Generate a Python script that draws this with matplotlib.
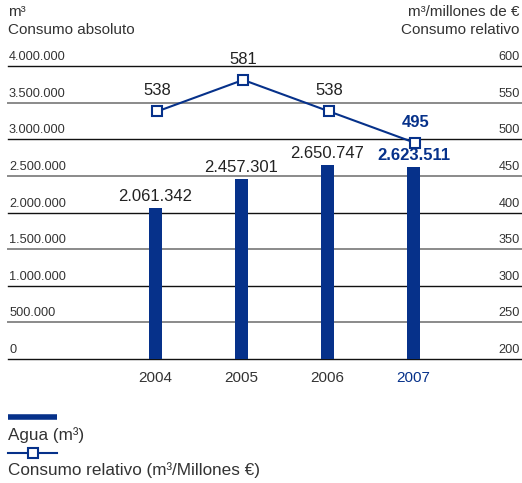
import matplotlib
matplotlib.use("Agg")
import matplotlib.pyplot as plt
from matplotlib import font_manager as fm
from matplotlib.lines import Line2D

years = ["2004", "2005", "2006", "2007"]
agua = [2061342, 2457301, 2650747, 2623511]
agua_labels = ["2.061.342", "2.457.301", "2.650.747", "2.623.511"]
relativo = [538, 581, 538, 495]
left_ticks = [0, 500000, 1000000, 1500000, 2000000, 2500000, 3000000, 3500000, 4000000]
left_tick_labels = ["0", "500.000", "1.000.000", "1.500.000", "2.000.000", "2.500.000",
                    "3.000.000", "3.500.000", "4.000.000"]
right_tick_labels = ["200", "250", "300", "350", "400", "450", "500", "550", "600"]

names = {f.name for f in fm.fontManager.ttflist}
BASE = "Liberation Sans" if "Liberation Sans" in names else "DejaVu Sans"
NARROW = "Liberation Sans Narrow" if "Liberation Sans Narrow" in names else BASE
plt.rcParams['font.family'] = [BASE, 'DejaVu Sans']

BLUE = "#06318a"
TXT = "#333333"

W, H = 522, 483
fig = plt.figure(figsize=(W / 100, H / 100), dpi=100)

def fx(px):
    return px / W

def fy(py):
    return 1 - py / H

top_px, bot_px = 66, 359
ax = fig.add_axes([fx(8), fy(bot_px), fx(522) - fx(8), fy(top_px) - fy(bot_px)])
ax.set_xlim(-1.715, 4.262)
ax.set_ylim(0, 4000000)
for s in ax.spines.values():
    s.set_visible(False)
ax.set_xticks([])
ax.set_yticks([])

for i, t in enumerate(left_ticks):
    if i % 2 == 0:
        ax.axhline(t, color="#111111", lw=1.0, zorder=1, clip_on=False)
    else:
        ax.axhline(t, color="#8a8a8a", lw=1.4, zorder=1, clip_on=False)
    ax.annotate(left_tick_labels[i], xy=(0.002, t), xycoords=("axes fraction", "data"),
                xytext=(0, 3), textcoords="offset pixels", ha="left", va="bottom",
                fontsize=9.2, color=TXT)
    ax.annotate(right_tick_labels[i], xy=(0.996, t), xycoords=("axes fraction", "data"),
                xytext=(0, 3), textcoords="offset pixels", ha="right", va="bottom",
                fontsize=9.2, color=TXT)

x = list(range(len(years)))
ax.bar(x, agua, width=13 / 86, color=BLUE, zorder=2)
for i, v in enumerate(agua):
    last = i == len(agua) - 1
    ax.annotate(agua_labels[i], xy=(x[i], v), xytext=(0, 4), textcoords="offset pixels",
                ha="center", va="bottom", fontsize=12, family=NARROW,
                color=BLUE if last else "#222222", fontweight="bold" if last else "normal")
    ax.annotate(years[i], xy=(x[i], 0), xytext=(0, -12), textcoords="offset pixels",
                ha="center", va="top", fontsize=11,
                color=BLUE if last else TXT)

ax2 = ax.twinx()
ax2.set_ylim(200, 600)
ax2.set_xlim(ax.get_xlim())
for s in ax2.spines.values():
    s.set_visible(False)
ax2.set_yticks([])
ax2.plot([xi + 0.02 for xi in x], relativo, color=BLUE, lw=1.5, marker="s", ms=7,
         mfc="white", mec=BLUE, mew=1.5, zorder=3)
for i, v in enumerate(relativo):
    last = i == len(relativo) - 1
    ax2.annotate(str(v), xy=(x[i] + 0.02, v), xytext=(0, 13), textcoords="offset pixels",
                 ha="center", va="bottom", fontsize=12, family=NARROW,
                 color=BLUE if last else "#222222", fontweight="bold" if last else "normal")

fig.text(fx(8), fy(12), "m³", ha="left", va="center", fontsize=11, color=TXT)
fig.text(fx(8), fy(30), "Consumo absoluto", ha="left", va="center", fontsize=11, color=TXT)
fig.text(fx(519), fy(12), "m³/millones de €", ha="right", va="center", fontsize=11, color=TXT)
fig.text(fx(519), fy(30), "Consumo relativo", ha="right", va="center", fontsize=11, color=TXT)

# legend
fig.add_artist(Line2D([fx(8), fx(57)], [fy(417), fy(417)], color=BLUE, lw=4,
                      transform=fig.transFigure, solid_capstyle="butt"))
fig.text(fx(8), fy(435), "Agua (m³)", ha="left", va="center", fontsize=12.3, color=TXT)
fig.add_artist(Line2D([fx(8), fx(57)], [fy(453), fy(453)], color=BLUE, lw=1.5,
                      transform=fig.transFigure))
fig.add_artist(Line2D([fx(33)], [fy(453)], color=BLUE, marker="s", ms=7, mfc="white",
                      mec=BLUE, mew=1.5, transform=fig.transFigure))
fig.text(fx(8), fy(470), "Consumo relativo (m³/Millones €)", ha="left", va="center",
         fontsize=12.3, color=TXT)

fig.savefig("out.png", dpi=100)
